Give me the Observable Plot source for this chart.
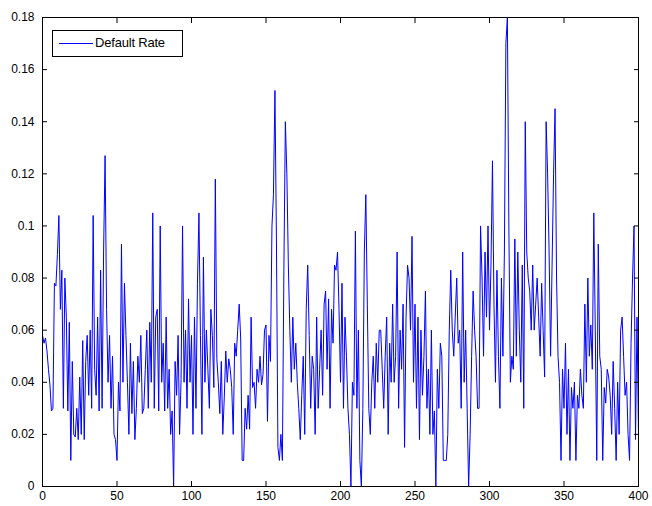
<!DOCTYPE html>
<html><head><meta charset="utf-8">
<script src="https://cdn.jsdelivr.net/npm/d3@7"></script>
<script src="https://cdn.jsdelivr.net/npm/@observablehq/plot@0.6"></script>
<style>
body{margin:0;background:#fff;font-family:"Liberation Sans",Arial,sans-serif;}
#wrap{position:relative;width:652px;height:506px;}
#legend{position:absolute;left:52px;top:30px;width:131px;height:27px;border:1px solid #000;background:#fff;box-sizing:border-box;font-size:13px;}
#legend .ln{position:absolute;left:6px;top:12px;width:34px;height:0;border-top:1px solid #0000ff;}
#legend .tx{position:absolute;left:42px;top:4px;letter-spacing:-0.2px;}
</style></head>
<body><div id="wrap"><div id="legend"><div class="ln"></div><div class="tx">Default Rate</div></div></div>
<script>
const seriesName = "Default Rate";
const xTicks = [0, 50, 100, 150, 200, 250, 300, 350, 400];
const yTicks = [0, 0.02, 0.04, 0.06, 0.08, 0.1, 0.12, 0.14, 0.16, 0.18];
const defaultRate = [
0.058,0.055,0.057,0.052,0.045,0.039,0.029,0.03,0.078,0.077,0.089,0.104,0.068,0.083,0.03,0.08,0.065,0.029,0.063,0.010,
0.048,0.02,0.019,0.03,0.018,0.042,0.02,0.056,0.018,0.048,0.058,0.035,0.06,0.03,0.104,0.045,0.035,0.065,0.029,0.083,
0.03,0.09,0.127,0.068,0.04,0.058,0.03,0.05,0.02,0.018,0.01,0.04,0.029,0.093,0.04,0.078,0.058,0.04,0.02,0.055,
0.028,0.048,0.018,0.03,0.05,0.04,0.058,0.028,0.03,0.045,0.06,0.03,0.063,0.04,0.105,0.03,0.065,0.068,0.029,0.1,
0.04,0.055,0.029,0.065,0.03,0.045,0.02,0.029,0.0,0.048,0.035,0.058,0.02,0.041,0.1,0.04,0.06,0.03,0.072,0.04,
0.058,0.02,0.065,0.03,0.078,0.105,0.058,0.02,0.088,0.04,0.06,0.045,0.03,0.068,0.058,0.038,0.118,0.049,0.04,0.028,
0.048,0.02,0.034,0.052,0.04,0.049,0.045,0.038,0.02,0.055,0.05,0.06,0.07,0.057,0.01,0.01,0.03,0.022,0.035,0.022,
0.065,0.038,0.04,0.03,0.045,0.04,0.05,0.039,0.043,0.06,0.062,0.025,0.058,0.048,0.1,0.112,0.152,0.095,0.015,0.01,
0.02,0.01,0.083,0.14,0.12,0.085,0.06,0.04,0.065,0.045,0.055,0.04,0.03,0.018,0.035,0.05,0.02,0.068,0.085,0.058,
0.03,0.05,0.045,0.02,0.065,0.03,0.045,0.06,0.035,0.07,0.075,0.045,0.072,0.03,0.068,0.055,0.085,0.083,0.09,0.068,
0.04,0.078,0.03,0.065,0.05,0.03,0.02,0.0,0.04,0.035,0.098,0.03,0.06,0.01,0.0,0.03,0.09,0.112,0.07,0.03,
0.02,0.04,0.05,0.03,0.055,0.04,0.06,0.06,0.045,0.03,0.05,0.065,0.02,0.055,0.04,0.07,0.04,0.05,0.09,0.03,
0.06,0.045,0.07,0.015,0.065,0.085,0.08,0.06,0.096,0.04,0.07,0.03,0.065,0.018,0.06,0.035,0.05,0.075,0.03,0.045,
0.02,0.06,0.02,0.029,0.0,0.045,0.03,0.055,0.05,0.01,0.01,0.01,0.02,0.06,0.083,0.06,0.05,0.065,0.08,0.055,
0.06,0.03,0.09,0.04,0.06,0.03,0.0,0.02,0.05,0.075,0.06,0.05,0.03,0.03,0.1,0.08,0.05,0.09,0.065,0.1,
0.06,0.085,0.125,0.07,0.04,0.083,0.05,0.03,0.08,0.05,0.09,0.17,0.18,0.1,0.04,0.05,0.045,0.095,0.05,0.09,
0.06,0.04,0.085,0.03,0.14,0.09,0.08,0.075,0.06,0.085,
0.06,0.07,0.08,0.065,0.05,0.078,0.06,0.042,0.14,0.12,0.09,0.05,0.085,0.12,0.145,0.08,0.05,0.04,0.01,0.045,
0.03,0.055,0.02,0.045,0.01,0.038,0.03,0.04,0.01,0.035,0.03,0.045,0.035,0.03,0.07,0.04,0.08,0.05,0.062,0.045,
0.105,0.06,0.01,0.093,0.05,0.045,0.01,0.038,0.032,0.045,0.042,0.035,0.02,0.048,0.03,0.01,0.04,0.02,0.06,0.065,
0.05,0.035,0.04,0.02,0.01,0.055,0.08,0.1,0.018,0.065,0.02
];
const data = defaultRate.map((v, i) => ({t: i, rate: v, series: seriesName}));
const blank = () => "";
const chart = Plot.plot({
  width: 652, height: 506,
  marginLeft: 42, marginRight: 14, marginTop: 17, marginBottom: 20,
  style: {fontFamily: '"Liberation Sans", Arial, sans-serif', fontSize: "12px", color: "#000", background: "transparent"},
  x: {domain: [0, 400]},
  y: {domain: [0, 0.18]},
  marks: [
    Plot.line(data, {x: "t", y: "rate", stroke: "#0000ff", strokeWidth: 1, clip: true}),
    Plot.frame({stroke: "#000", strokeWidth: 1}),
    Plot.axisX({anchor: "bottom", ticks: xTicks, tickSize: -5, tickPadding: 10, label: null, tickFormat: d3.format("d")}),
    Plot.axisX({anchor: "top", ticks: xTicks, tickSize: -5, label: null, tickFormat: blank}),
    Plot.axisY({anchor: "left", ticks: yTicks, tickSize: -5, tickPadding: 13, label: null, tickFormat: d => d === 0 ? "0" : d3.format(".2~f")(d)}),
    Plot.axisY({anchor: "right", ticks: yTicks, tickSize: -5, label: null, tickFormat: blank})
  ]
});
document.getElementById("wrap").insertBefore(chart, document.getElementById("legend"));
chart.style.position = "absolute"; chart.style.left = "0"; chart.style.top = "0";
</script></body></html>
